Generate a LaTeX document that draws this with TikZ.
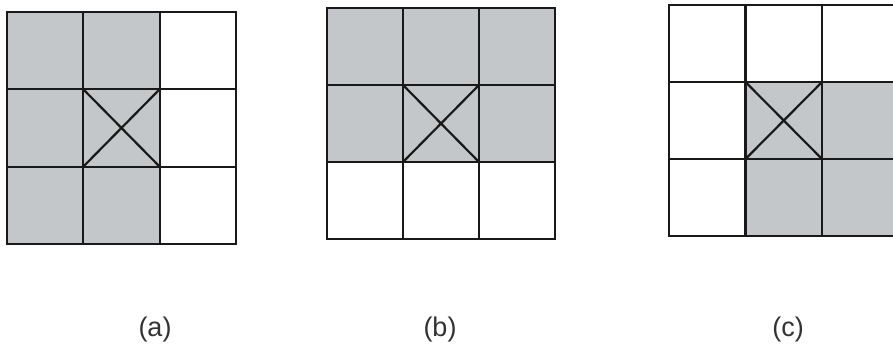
\documentclass[tikz,border=0pt]{standalone}
\usepackage{fontspec}
\setmainfont{Liberation Sans}
\definecolor{shade}{RGB}{196,199,201}
\tikzset{
  gridline/.style={line width=2.2pt, black!90, line cap=rect},
  cellfill/.style={fill=shade, draw=none},
  caption/.style={font=\fontsize{27}{30}\selectfont, text=black!80, inner sep=0pt, anchor=center}
}
\begin{document}
\begin{tikzpicture}[x=1pt,y=-1pt]
\useasboundingbox (0,0) rectangle (893,349);
\fill[white] (0,0) rectangle (893,349);
% ---- (a) ----
\begin{scope}[shift={(7,12)}]
  \foreach \c/\r in {0/0,1/0,0/1,1/1,0/2,1/2}
    \fill[cellfill] (\c*76.3,\r*77.3) rectangle ++(76.3,77.3);
  \foreach \i in {0,1,2,3} {
    \draw[gridline] (\i*76.3,0) -- (\i*76.3,231.9);
    \draw[gridline] (0,\i*77.3) -- (228.9,\i*77.3);
  }
  \draw[gridline] (76.3,77.3) -- (152.6,154.6) (152.6,77.3) -- (76.3,154.6);
\end{scope}
% ---- (b) ----
\begin{scope}[shift={(327,8)}]
  \foreach \c/\r in {0/0,1/0,2/0,0/1,1/1,2/1}
    \fill[cellfill] (\c*76,\r*77) rectangle ++(76,77);
  \foreach \i in {0,1,2,3} {
    \draw[gridline] (\i*76,0) -- (\i*76,231);
    \draw[gridline] (0,\i*77) -- (228,\i*77);
  }
  \draw[gridline] (76,77) -- (152,154) (152,77) -- (76,154);
\end{scope}
% ---- (c) ----
\begin{scope}[shift={(669,5)}]
  \foreach \c/\r in {1/1,2/1,1/2,2/2}
    \fill[cellfill] (\c*76.5,\r*77) rectangle ++(76.5,77);
  \foreach \i in {0,1,2,3} {
    \draw[gridline] (\i*76.5,0) -- (\i*76.5,231);
    \draw[gridline] (0,\i*77) -- (229.5,\i*77);
  }
  \draw[gridline] (76.5,77) -- (153,154) (153,77) -- (76.5,154);
\end{scope}
\node[caption] (la) at (155,330) {(a)};
\node[caption] (lb) at (440,330) {(b)};
\node[caption] (lc) at (788,330) {(c)};
\end{tikzpicture}
\end{document}
